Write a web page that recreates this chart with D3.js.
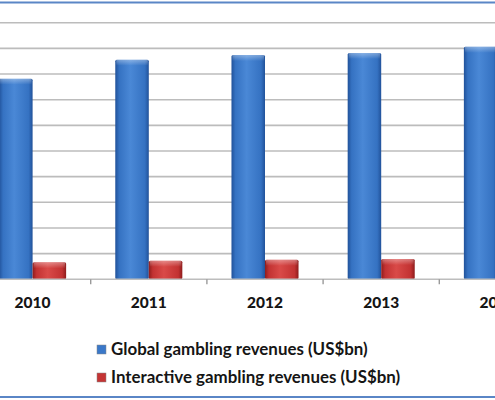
<!DOCTYPE html>
<html lang="en">
  <head>
    <meta charset="utf-8">
    <style type="text/css">
      body { margin: 0; background: white; }
      svg { display: block; background: white; }
      .grid line { stroke: #bcbcbc; stroke-width: 1.6px; }
      .year { font-family: Lato, "Open Sans", sans-serif; font-weight: 900; font-size: 15.5px; fill: #151515; }
      .legend text { font-family: Lato, "Open Sans", sans-serif; font-weight: bold; font-size: 16.9px; fill: #151515; }
    </style>
  </head>
  <body>
    <script src="https://cdn.jsdelivr.net/npm/d3@7"></script>
    <svg id="chart"></svg>

    <script type="text/javascript">
var years = ["2010", "2011", "2012", "2013", "2014"];
var globalRevenue = [391, 428, 437, 441, 453];
var interactiveRevenue = [33, 36, 38, 39.5, 41];
var seriesNames = ["Global gambling revenues (US$bn)", "Interactive gambling revenues (US$bn)"];
var gridValues = [0, 50, 100, 150, 200, 250, 300, 350, 400, 450, 500, 550];

var width = 495;
var height = 400;

var svg = d3.select("#chart")
  .attr("width", width)
  .attr("height", height);

var defs = svg.append("defs");

function barGradient(id, edge, mid, light) {
  var g = defs.append("linearGradient")
    .attr("id", id)
    .attr("x1", "0").attr("x2", "1").attr("y1", "0").attr("y2", "0");
  g.append("stop").attr("offset", "0%").attr("stop-color", edge);
  g.append("stop").attr("offset", "12%").attr("stop-color", mid);
  g.append("stop").attr("offset", "45%").attr("stop-color", light);
  g.append("stop").attr("offset", "88%").attr("stop-color", mid);
  g.append("stop").attr("offset", "100%").attr("stop-color", edge);
}
barGradient("blueGrad", "#21529a", "#3572c2", "#4a88d6");
barGradient("redGrad", "#8e1c1c", "#c23232", "#d94a48");

var topGrad = defs.append("linearGradient")
  .attr("id", "topShade")
  .attr("x1", "0").attr("x2", "0").attr("y1", "0").attr("y2", "1");
topGrad.append("stop").attr("offset", "0%").attr("stop-color", "white").attr("stop-opacity", 0.35);
topGrad.append("stop").attr("offset", "100%").attr("stop-color", "white").attr("stop-opacity", 0);

var step = 116.2;
var x0 = 32.6 - step / 2;
var x = d3.scaleBand()
  .domain(years)
  .range([x0, x0 + step * years.length])
  .paddingInner(0.423)
  .paddingOuter(0.423 / 2);

var x1 = d3.scaleBand()
  .domain([0, 1])
  .range([0, x.bandwidth()]);

var y = d3.scaleLinear()
  .domain([0, 500])
  .range([279.3, 22.7]);

// gridlines
svg.append("g")
  .attr("class", "grid")
  .selectAll("line")
  .data(gridValues.slice(1))
  .enter()
  .append("line")
  .attr("x1", 0)
  .attr("x2", width)
  .attr("y1", function(d) { return y(d); })
  .attr("y2", function(d) { return y(d); });

// bars
var data = years.map(function(yr, i) {
  return { year: yr, values: [globalRevenue[i], interactiveRevenue[i]] };
});

var groups = svg.append("g")
  .selectAll("g")
  .data(data)
  .enter()
  .append("g")
  .attr("transform", function(d) { return "translate(" + x(d.year) + ",0)"; });

var bars = groups.selectAll("g")
  .data(function(d) {
    return d.values.map(function(v, i) { return { s: i, v: v }; });
  })
  .enter()
  .append("g");

bars.append("rect")
  .attr("x", function(d) { return x1(d.s); })
  .attr("y", function(d) { return y(d.v); })
  .attr("width", x1.bandwidth())
  .attr("height", function(d) { return y(0) - y(d.v); })
  .attr("rx", 1.5)
  .style("fill", function(d) { return d.s === 0 ? "url(#blueGrad)" : "url(#redGrad)"; });

bars.append("rect")
  .attr("x", function(d) { return x1(d.s) + 1; })
  .attr("y", function(d) { return y(d.v); })
  .attr("width", x1.bandwidth() - 2)
  .attr("height", 6)
  .style("fill", "url(#topShade)");

// x axis
var axis = svg.append("g");
axis.append("line")
  .attr("x1", 0).attr("x2", width)
  .attr("y1", y(0)).attr("y2", y(0))
  .style("stroke", "#bdbdbd")
  .style("stroke-width", 1.6);

axis.selectAll(".tick")
  .data(years.slice(1))
  .enter()
  .append("line")
  .attr("x1", function(d) { return x(d) - x.step() * x.paddingInner() / 2; })
  .attr("x2", function(d) { return x(d) - x.step() * x.paddingInner() / 2; })
  .attr("y1", y(0))
  .attr("y2", y(0) + 5)
  .style("stroke", "#9a9a9a")
  .style("stroke-width", 1.4);

axis.selectAll("text")
  .data(years)
  .enter()
  .append("text")
  .attr("class", "year")
  .attr("x", function(d) { return x(d) + x.bandwidth() / 2; })
  .attr("y", 308)
  .attr("text-anchor", "middle")
  .text(function(d) { return d; });

// legend
var legendColors = ["#3a78c9", "#c43434"];
var legend = svg.append("g")
  .attr("class", "legend")
  .selectAll("g")
  .data(seriesNames)
  .enter()
  .append("g")
  .attr("transform", function(d, i) { return "translate(97," + (345 + i * 28) + ")"; });

legend.append("rect")
  .attr("width", 9)
  .attr("height", 9)
  .style("fill", function(d, i) { return legendColors[i]; })
  .style("stroke", "#888")
  .style("stroke-width", 0.5);

legend.append("text")
  .attr("x", 14)
  .attr("y", 10)
  .text(function(d) { return d; });

// frame lines
svg.append("line")
  .attr("x1", 0).attr("x2", width)
  .attr("y1", 2.5).attr("y2", 2.5)
  .style("stroke", "#5a86c6")
  .style("stroke-width", 2);
svg.append("line")
  .attr("x1", 0).attr("x2", width)
  .attr("y1", 397).attr("y2", 397)
  .style("stroke", "#5a86c6")
  .style("stroke-width", 2);
    </script>
  </body>
</html>
